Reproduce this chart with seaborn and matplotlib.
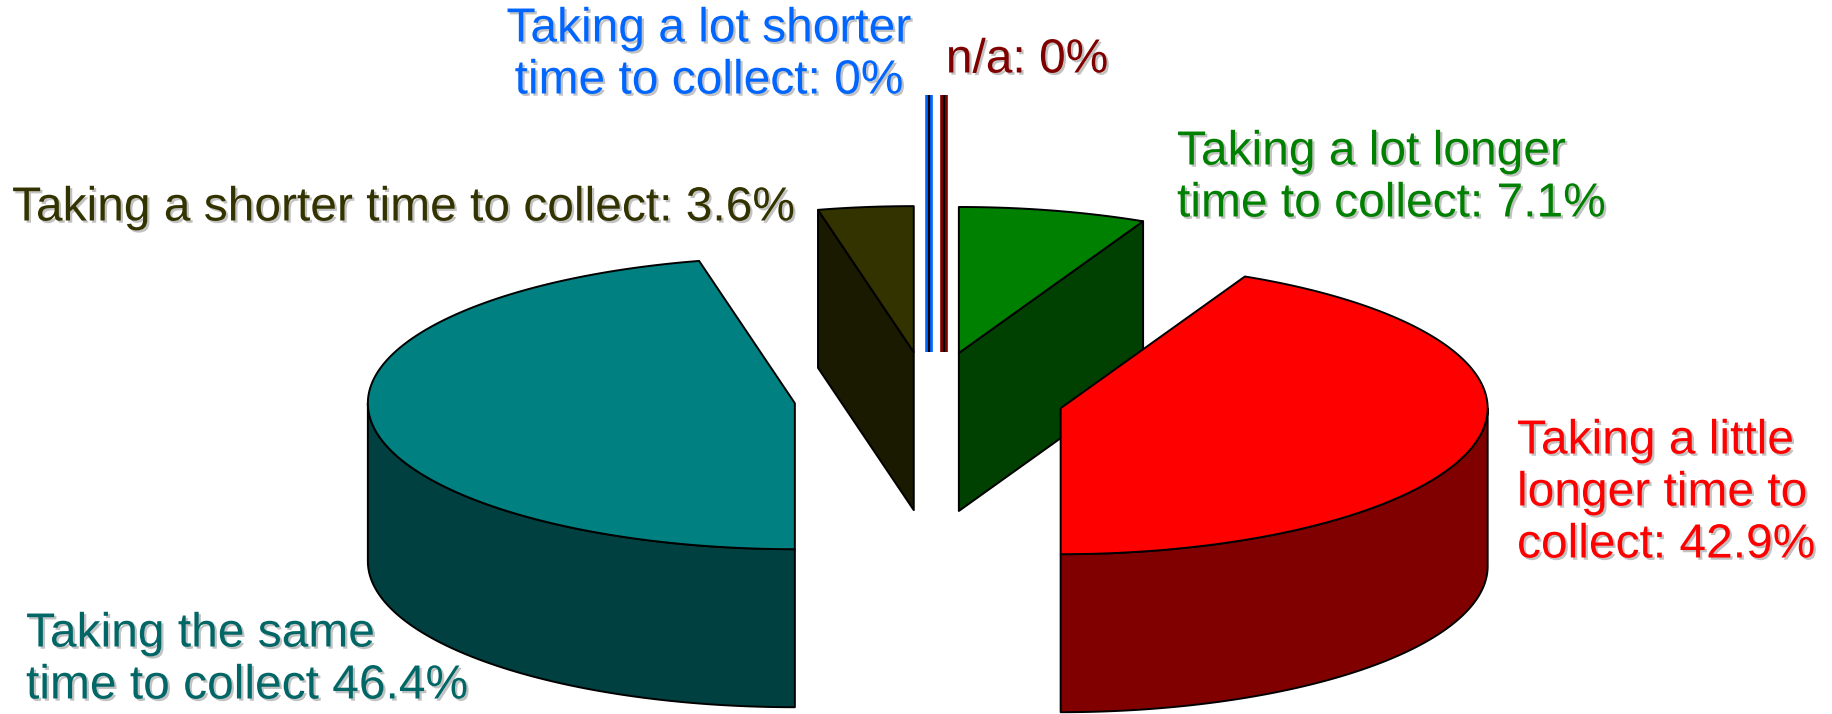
import numpy as np
import matplotlib
matplotlib.use("Agg")
import matplotlib.pyplot as plt
import matplotlib.patheffects as pe
from matplotlib.patches import Polygon
import seaborn as sns

# data (slices go clockwise from 12 o'clock)
labels = ["Taking a lot longer\ntime to collect: 7.1%",
          "Taking a little\nlonger time to\ncollect: 42.9%",
          "Taking the same\ntime to collect 46.4%",
          "Taking a shorter time to collect: 3.6%",
          "Taking a lot shorter\ntime to collect: 0%",
          "n/a: 0%"]
shares = [7.1, 42.9, 46.4, 3.6, 0.0, 0.0]
top_colors = ["#008000", "#ff0000", "#008080", "#333300", "#0066ff", "#800000"]
side_colors = ["#004000", "#800000", "#004040", "#1a1a00", "#0066ff", "#800000"]
text_colors = ["#008000", "#ff0000", "#006666", "#333300", "#0066ff", "#800000"]

# label placement (pixel units, y down) and alignment
label_xy = [(1177, 178), (1517, 493), (26, 660), (12, 208), (709, 55), (1027, 60)]
label_ha = ["left", "left", "left", "left", "center", "center"]

# pie geometry in pixels
cx, cy = 929, 398
a = 427
k = 146 / 427
depth = 158
explode = 135
zero_len = 257
zero_gap = 15

sns.set_theme(style="white")
plt.rcParams["font.family"] = ["Liberation Sans", "DejaVu Sans"]

fig = plt.figure(figsize=(18.32, 7.14), dpi=100)
ax = fig.add_axes([0, 0, 1, 1])
ax.set_xlim(0, 1832)
ax.set_ylim(714, 0)
ax.axis("off")

edge = dict(edgecolor="black", linewidth=1.4, joinstyle="round")


def to_screen(ox, oy, px, py, h=0.0):
    return ox + px, oy - k * py + h


bounds = np.concatenate([[0], np.cumsum(shares)]) * 3.6
slices = []
zero_idx = 0
for i, s in enumerate(shares):
    t1, t2 = bounds[i], bounds[i + 1]
    mid = np.radians((t1 + t2) / 2)
    ox, oy = to_screen(cx, cy, explode * np.sin(mid), explode * np.cos(mid))
    if s == 0:
        ox += zero_gap * zero_idx
        zero_idx += 1
    slices.append((i, t1, t2, ox, oy))

# back to front
for i, t1, t2, ox, oy in sorted(slices, key=lambda r: r[4]):
    if shares[i] == 0:
        ax.plot([ox, ox], [oy, oy - zero_len], color=top_colors[i], lw=5.5,
                solid_capstyle="butt", zorder=2)
        ax.plot([ox, ox], [oy, oy - zero_len], color="black", lw=1.6,
                solid_capstyle="butt", zorder=2)
        continue
    r1, r2 = np.radians(t1), np.radians(t2)

    # outer wall (front half only)
    w1, w2 = max(r1, np.pi / 2), min(r2, 1.5 * np.pi)
    if w2 > w1:
        th = np.linspace(w1, w2, 200)
        top = [to_screen(ox, oy, a * np.sin(t), a * np.cos(t)) for t in th]
        bot = [to_screen(ox, oy, a * np.sin(t), a * np.cos(t), depth) for t in th[::-1]]
        ax.add_patch(Polygon(top + bot, facecolor=side_colors[i], zorder=1, **edge))

    # cut faces facing the viewer
    for r, sign in ((r1, -1), (r2, 1)):
        normal_back = -sign * np.sin(r)
        if normal_back < -1e-6:
            rim = to_screen(ox, oy, a * np.sin(r), a * np.cos(r))
            face = [(ox, oy), rim, (rim[0], rim[1] + depth), (ox, oy + depth)]
            ax.add_patch(Polygon(face, facecolor=side_colors[i], zorder=1, **edge))

    # top face
    th = np.linspace(r1, r2, 300)
    pts = [(ox, oy)] + [to_screen(ox, oy, a * np.sin(t), a * np.cos(t)) for t in th]
    ax.add_patch(Polygon(pts, facecolor=top_colors[i], zorder=1, **edge))

shadow = [pe.withSimplePatchShadow(offset=(1.6, -1.6), shadow_rgbFace="#9a9a9a", alpha=0.6)]
for i, lab in enumerate(labels):
    x, y = label_xy[i]
    ax.text(x, y, lab, color=text_colors[i], fontsize=34.5, ha=label_ha[i],
            va="center", multialignment=label_ha[i], linespacing=1.2,
            path_effects=shadow, zorder=5)

fig.savefig("out.png", dpi=100, facecolor="white")
